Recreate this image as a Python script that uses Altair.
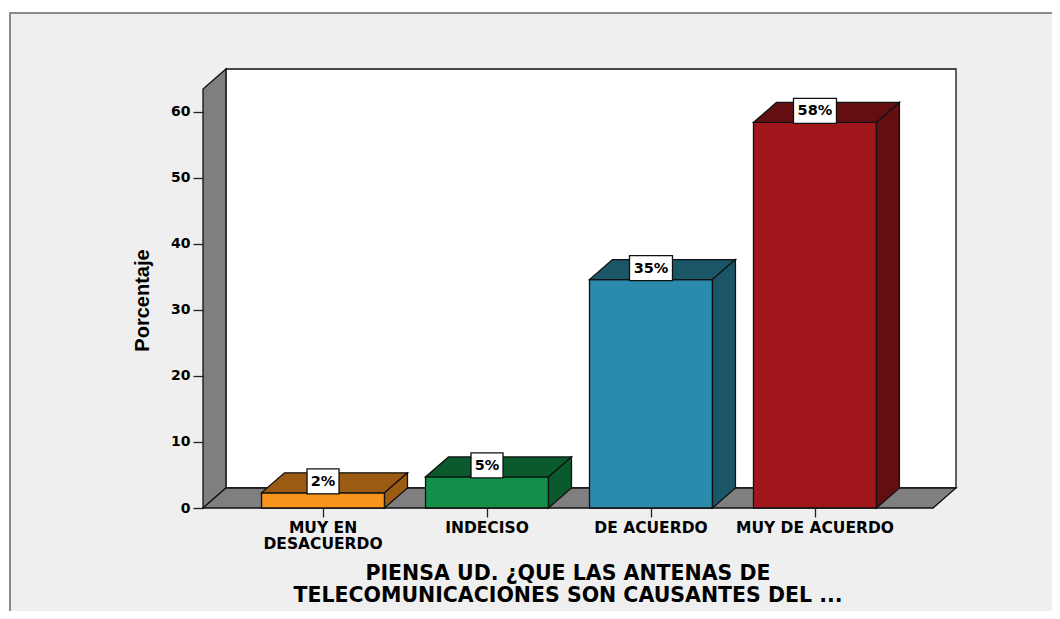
import altair as alt
import pandas as pd

# ---------------- data ----------------
categories = ["MUY EN\nDESACUERDO", "INDECISO", "DE ACUERDO", "MUY DE ACUERDO"]
values = [2.3, 4.7, 34.6, 58.4]
pct_labels = ["2%", "5%", "35%", "58%"]
front_colors = ["#F7941D", "#12904A", "#2A8BAD", "#A1161B"]
shade_colors = ["#9C5B13", "#0B5A2D", "#1A5568", "#630F12"]
y_ticks = [0, 10, 20, 30, 40, 50, 60]
y_title = "Porcentaje"
x_title = "PIENSA UD. ¿QUE LAS ANTENAS DE\nTELECOMUNICACIONES SON CAUSANTES DEL ..."

# ---------------- 3D geometry (data units) ----------------
X_MIN, X_MAX = -0.732, 3.86
Y_MAX = 66.5
DX, DY = 0.14, 3.03
HALF = 0.375
FRONT_TOP = Y_MAX - DY
WIDE = "DejaVu Sans"
NARROW = "Liberation Sans"
EDGE = "#111111"

xs = alt.Scale(domain=[X_MIN, X_MAX], nice=False, zero=False)
ys = alt.Scale(domain=[0, Y_MAX], nice=False, zero=False)
x_axis = alt.Axis(values=[0, 1, 2, 3], labels=False, tickSize=9, tickColor="#222222",
                  tickWidth=1.3, domain=False, grid=False, title=None, zindex=2)
y_axis = alt.Axis(values=y_ticks, tickSize=10, tickColor="#222222", tickWidth=1.3,
                  domain=False, grid=False, labelFont=WIDE, labelFontSize=14,
                  labelFontWeight="bold", labelColor="black", labelPadding=3,
                  title=y_title, titleFont=NARROW, titleFontSize=20, titleFontWeight="bold",
                  titleColor="black", titlePadding=18, titleY=231, zindex=2)


def X(f):
    return alt.X(f"{f}:Q", scale=xs, axis=x_axis)


def Y(f):
    return alt.Y(f"{f}:Q", scale=ys, axis=y_axis)


n = len(values)
idx = list(range(n))

# frame / background
frame = alt.Chart(alt.Data(values=[{}])).mark_rect(
    fill="#EFEFEF", stroke="#8A8A8A", strokeWidth=2
).encode(x=alt.value(-193), x2=alt.value(1200), y=alt.value(-56), y2=alt.value(900))

# back wall
back_df = pd.DataFrame({"x": [X_MIN + DX], "x2": [X_MAX], "y": [DY], "y2": [Y_MAX]})
back = alt.Chart(back_df).mark_rect(fill="white", stroke=EDGE, strokeWidth=1.3).encode(
    x=X("x"), x2="x2:Q", y=Y("y"), y2="y2:Q")

# left wall
left_df = pd.DataFrame({"x": [X_MIN, X_MIN + DX], "lo": [0, DY], "hi": [FRONT_TOP, Y_MAX]})
left = alt.Chart(left_df).mark_area(fill="#7F7F7F", stroke=EDGE, strokeWidth=1.3,
                                    orient="vertical").encode(
    x=X("x"), y=Y("lo"), y2="hi:Q")

# floor
floor_df = pd.DataFrame({"x": [X_MIN, X_MIN + DX, X_MAX - DX, X_MAX],
                         "lo": [0, 0, 0, DY], "hi": [0, DY, DY, DY]})
floor = alt.Chart(floor_df).mark_area(fill="#7F7F7F", stroke=EDGE, strokeWidth=1.3,
                                      orient="vertical").encode(
    x=X("x"), y=Y("lo"), y2="hi:Q")

# bar fronts
bars_df = pd.DataFrame({
    "i": idx, "x0": [i - HALF for i in idx], "x1": [i + HALF for i in idx],
    "zero": [0] * n, "v": values, "front": front_colors, "shade": shade_colors,
    "label": pct_labels, "cat": categories,
})
fronts = alt.Chart(bars_df).mark_rect(stroke=EDGE, strokeWidth=1.3).encode(
    x=X("x0"), x2="x1:Q", y=Y("zero"), y2="v:Q",
    color=alt.Color("front:N", scale=None))

# top and side faces
top_rows = []
side_rows = []
for i, v, sc in zip(idx, values, shade_colors):
    x0, x1 = i - HALF, i + HALF
    top_rows += [
        {"id": i, "x": x0, "lo": v, "hi": v, "shade": sc},
        {"id": i, "x": x0 + DX, "lo": v, "hi": v + DY, "shade": sc},
        {"id": i, "x": x1, "lo": v, "hi": v + DY, "shade": sc},
        {"id": i, "x": x1 + DX, "lo": v + DY, "hi": v + DY, "shade": sc},
    ]
    side_rows += [
        {"id": i, "x": x1, "lo": 0, "hi": v, "shade": sc},
        {"id": i, "x": x1 + DX, "lo": DY, "hi": v + DY, "shade": sc},
    ]
tops = alt.Chart(pd.DataFrame(top_rows)).mark_area(
    stroke=EDGE, strokeWidth=1.3, orient="vertical").encode(
    x=X("x"), y=Y("lo"), y2="hi:Q", detail="id:N",
    color=alt.Color("shade:N", scale=None))
sides = alt.Chart(pd.DataFrame(side_rows)).mark_area(
    stroke=EDGE, strokeWidth=1.3, orient="vertical").encode(
    x=X("x"), y=Y("lo"), y2="hi:Q", detail="id:N",
    color=alt.Color("shade:N", scale=None))

# value label boxes
box_df = bars_df.copy()
box_df["bx0"] = [i - (len(l) * 11 + 10) / 2 / 164 for i, l in zip(idx, pct_labels)]
box_df["bx1"] = [i + (len(l) * 11 + 10) / 2 / 164 for i, l in zip(idx, pct_labels)]
boxes = alt.Chart(box_df).mark_rect(fill="white", stroke=EDGE, strokeWidth=1.3,
                                    yOffset=1, y2Offset=-24).encode(
    x=X("bx0"), x2="bx1:Q", y=Y("v"), y2="v:Q")
box_text = alt.Chart(bars_df).mark_text(font=WIDE, fontSize=14.5, fontWeight="bold",
                                        color="black", dy=-11).encode(
    x=X("i"), y=Y("v"), text="label:N")

# category labels
cat_text = alt.Chart(bars_df).mark_text(font=WIDE, fontSize=15.5, fontWeight="bold",
                                        color="black", baseline="top", lineBreak="\n",
                                        lineHeight=16).encode(
    x=X("i"), y=alt.value(452), text="cat:N")

# x title
title_df = pd.DataFrame({"t": [x_title]})
title_text = alt.Chart(title_df).mark_text(font=WIDE, fontSize=20.5, fontWeight="bold",
                                           color="black", baseline="alphabetic",
                                           lineBreak="\n", lineHeight=22).encode(
    x=alt.value(365), y=alt.value(511), text="t:N")

chart = alt.layer(frame, back, left, floor, fronts, tops, sides, boxes, box_text,
                  cat_text, title_text).properties(
    width=753, height=439,
    autosize=alt.AutoSizeParams(type="none"),
    padding={"left": 195, "top": 61, "right": 96, "bottom": 103},
    background="white",
).configure_view(stroke=None)

chart.save("out.html", embed_options={"renderer": "svg", "actions": False})
